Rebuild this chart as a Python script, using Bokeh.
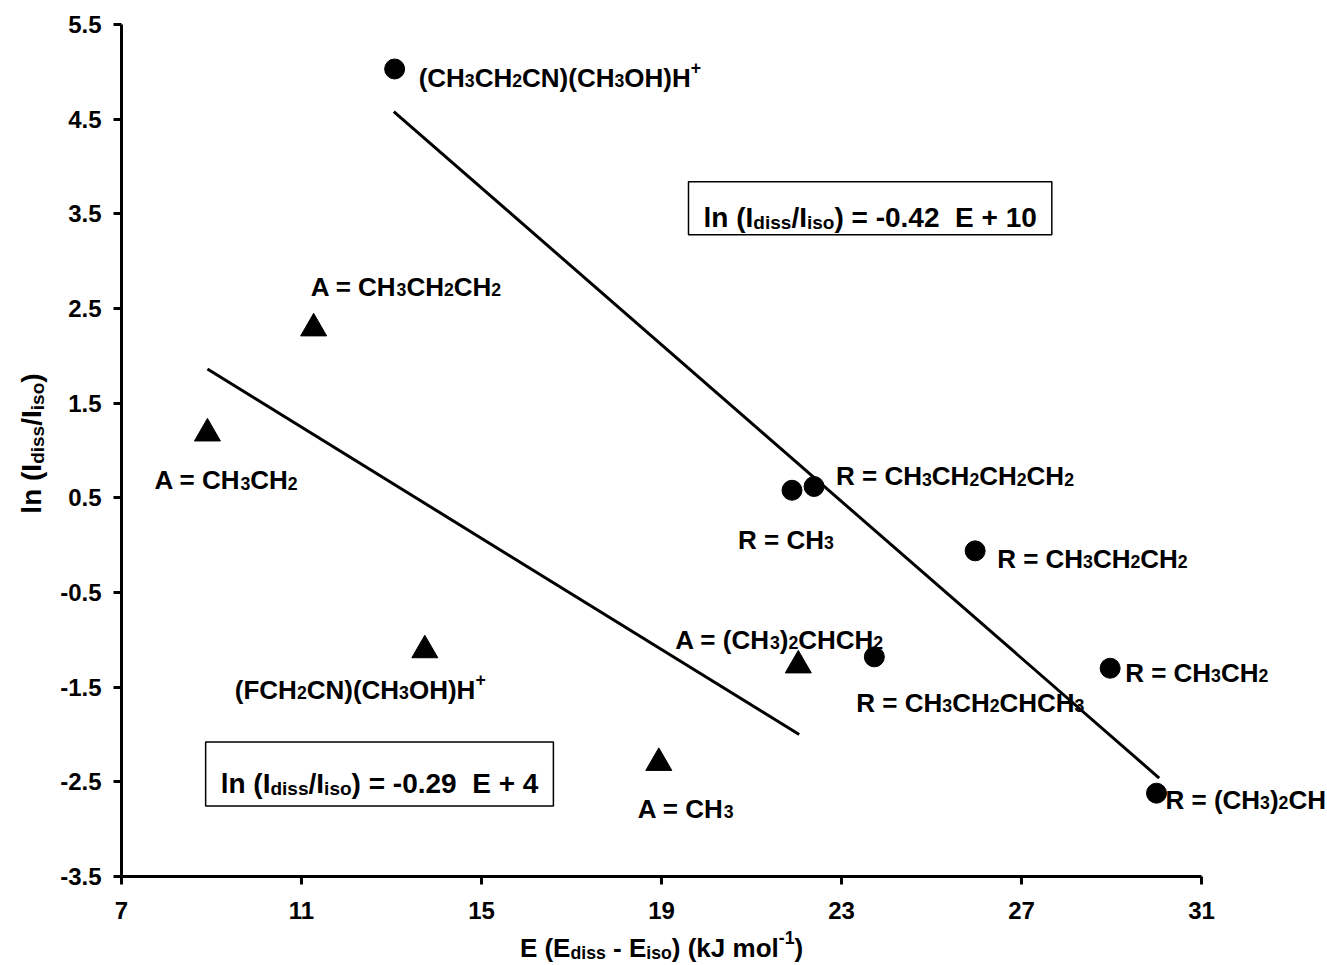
import math
import re
from bokeh.plotting import figure
from bokeh.models import (Range1d, FixedTicker, Label, BoxAnnotation, LinearAxis,
                          PrintfTickFormatter)
from bokeh.embed import file_html
from bokeh.resources import INLINE

# ---------------- data ----------------
circle_x = [13.07, 21.90, 22.39, 23.73, 25.97, 28.97, 30.00]
circle_y = [5.03, 0.58, 0.62, -1.18, -0.06, -1.30, -2.62]
circle_labels = [
    "(CH_{3}CH_{2}CN)(CH_{3}OH)H^{+}",
    "R = CH_{3}",
    "R = CH_{3}CH_{2}CH_{2}CH_{2}",
    "R = CH_{3}CH_{2}CHCH_{3}",
    "R = CH_{3}CH_{2}CH_{2}",
    "R = CH_{3}CH_{2}",
    "R = (CH_{3})_{2}CH",
]
tri_x = [8.91, 11.27, 13.74, 18.94, 22.04]
tri_y = [1.18, 2.29, -1.11, -2.30, -1.27]
tri_labels = [
    "A = CH_{3}CH_{2}",
    "A = CH_{3}CH_{2}CH_{2}",
    "(FCH_{2}CN)(CH_{3}OH)H^{+}",
    "A = CH_{3}",
    "A = (CH_{3})_{2}CHCH_{2}",
]
fit_upper_x = [13.05, 30.06]
fit_upper_y = [4.58, -2.46]
fit_lower_x = [8.91, 22.06]
fit_lower_y = [1.86, -2.00]
x_ticks = [7, 11, 15, 19, 23, 27, 31]
y_ticks = [-3.5, -2.5, -1.5, -0.5, 0.5, 1.5, 2.5, 3.5, 4.5, 5.5]
eq_upper = "ln (I_{diss}/I_{iso}) = -0.42  E + 10"
eq_lower = "ln (I_{diss}/I_{iso}) = -0.29  E + 4"
x_title = "E (E_{diss} - E_{iso}) (kJ mol^{-1})"
y_title = "ln (I_{diss}/I_{iso})"

# ---------------- layout / style ----------------
W, H = 1327, 965
BL, BR, BT, BB = 121, 126, 24, 89          # pixel margins around the data area
PXX = (W - BL - BR) / (x_ticks[-1] - x_ticks[0])
PXY = (H - BT - BB) / (y_ticks[-1] - y_ticks[0])
FONT = "Liberation Sans"

# label offsets in pixels (dx right, dy down) from each point
circle_offsets = [(24, 9), (-54, 50), (22, -10), (-18, 46), (22, 8), (15, 5), (9, 7)]
tri_offsets = [(-53, 47), (-3, -41), (-190, 40), (-21, 46), (-123, -25)]

WID = {' ': 278, '(': 333, ')': 333, '+': 584, '-': 333, '.': 278, '/': 278,
       '=': 584, 'A': 722, 'C': 722, 'E': 667, 'F': 611, 'H': 722, 'I': 278,
       'J': 556, 'N': 722, 'O': 778, 'R': 722, 'd': 611, 'i': 278, 'k': 556,
       'l': 278, 'm': 889, 'n': 611, 'o': 611, 's': 556}


def tw(t):
    return sum(WID.get(c, 556) for c in t)


def parse(markup):
    segs, buf, i = [], "", 0
    while i < len(markup):
        c = markup[i]
        if c in "_^" and i + 1 < len(markup) and markup[i + 1] == "{":
            if buf:
                segs.append((buf, "n"))
                buf = ""
            j = markup.index("}", i)
            segs.append((markup[i + 2:j], "sub" if c == "_" else "sup"))
            i = j + 1
        else:
            buf += c
            i += 1
    if buf:
        segs.append((buf, "n"))
    return segs


def rich(p, x, y, markup, dx, dy, size, angle=0.0, align="left",
         ratio=0.68, sub_shift=0.1, sup_shift=0.42):
    segs = parse(markup)
    sizes = [size if k == "n" else size * ratio for _, k in segs]
    widths = [tw(t) * s / 1000.0 for (t, _), s in zip(segs, sizes)]
    total = sum(widths)
    pos = 0.0 if align == "left" else -total / 2.0
    ca, sa = math.cos(angle), math.sin(angle)
    for (t, k), s, w in zip(segs, sizes, widths):
        shift = 0.0 if k == "n" else (-sub_shift * size if k == "sub" else sup_shift * size)
        for m in re.finditer(r"\S+(?: \S+)*", t):
            off = pos + tw(t[:m.start()]) * s / 1000.0
            ox = dx + off * ca - shift * sa
            oy = -dy + off * sa + shift * ca
            p.add_layout(Label(x=x, y=y, x_offset=ox, y_offset=oy, text=m.group(),
                               angle=angle, text_font=FONT, text_font_style="bold",
                               text_font_size="%.1fpx" % s, text_color="black",
                               text_baseline="alphabetic", text_align="left"))
        pos += w
    return total


x0, x1 = x_ticks[0], x_ticks[-1]
y0, y1 = y_ticks[0], y_ticks[-1]
p = figure(width=W, height=H, output_backend="svg", toolbar_location=None,
           x_range=Range1d(x0 - BL / PXX, x1 + BR / PXX),
           y_range=Range1d(y0 - BB / PXY, y1 + BT / PXY),
           x_axis_location=None, y_axis_location=None,
           min_border_left=0, min_border_right=0, min_border_top=0,
           min_border_bottom=0)
p.outline_line_color = None
p.grid.visible = False
p.background_fill_color = "white"
p.border_fill_color = "white"

xaxis = LinearAxis(fixed_location=y0, bounds=(x0, x1), ticker=FixedTicker(ticks=x_ticks),
                   formatter=PrintfTickFormatter(format="%d"))
yaxis = LinearAxis(fixed_location=x0, bounds=(y0, y1), ticker=FixedTicker(ticks=y_ticks),
                   formatter=PrintfTickFormatter(format="%.1f"))
for ax, standoff in ((xaxis, 17), (yaxis, 12)):
    ax.axis_line_width = 3
    ax.axis_line_color = "black"
    ax.major_tick_line_width = 3
    ax.major_tick_line_color = "black"
    ax.major_tick_in = 0
    ax.major_tick_out = 8
    ax.minor_tick_line_color = None
    ax.major_label_text_font = FONT
    ax.major_label_text_font_style = "bold"
    ax.major_label_text_font_size = "24px"
    ax.major_label_text_color = "black"
    ax.major_label_standoff = standoff
p.add_layout(xaxis, "below")
p.add_layout(yaxis, "left")

# fitted lines
p.line(fit_upper_x, fit_upper_y, line_color="black", line_width=3)
p.line(fit_lower_x, fit_lower_y, line_color="black", line_width=3)

# points
p.scatter(circle_x, circle_y, marker="circle", size=20, color="black")
p.scatter(tri_x, tri_y, marker="triangle", size=26, color="black")

LBL = 26
for xx, yy, t, (dx, dy) in zip(circle_x, circle_y, circle_labels, circle_offsets):
    rich(p, xx, yy, t, dx, dy, LBL)
for xx, yy, t, (dx, dy) in zip(tri_x, tri_y, tri_labels, tri_offsets):
    rich(p, xx, yy, t, dx, dy, LBL)

# equation boxes: anchor = box top-left (data), height in px
EQ = 28
PAD_X = 15
for txt, bx, by, bh in ((eq_upper, 19.60, 3.84, 53), (eq_lower, 8.87, -2.08, 64)):
    tot = rich(p, bx, by, txt, PAD_X, bh / 2 + 9, EQ, sub_shift=0.2)
    p.add_layout(BoxAnnotation(left=bx, right=bx + (tot + 2 * PAD_X) / PXX,
                               top=by, bottom=by - bh / PXY,
                               fill_alpha=0, line_color="black", line_alpha=1.0,
                               line_width=1.5))

# axis titles
rich(p, (x0 + x1) / 2, y0, x_title, 0, 71, 26,
     align="center", sub_shift=0.2, sup_shift=0.4)
rich(p, x0, (y0 + y1) / 2, y_title, -90, -7, 28,
     angle=math.pi / 2, align="center", sub_shift=0.2)

open("out.html", "w").write(file_html(p, INLINE))
